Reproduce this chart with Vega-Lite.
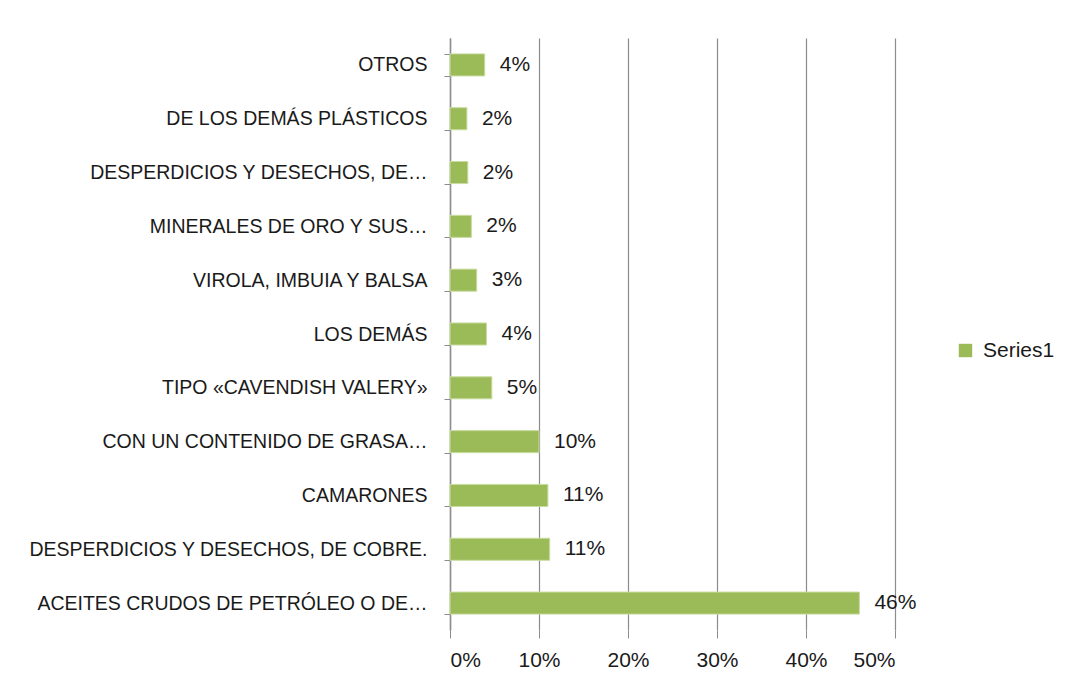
{
  "$schema": "https://vega.github.io/schema/vega-lite/v6.json",
  "autosize": {"type": "none"},
  "width": 445,
  "height": 592,
  "padding": {"left": 450, "top": 38, "right": 175, "bottom": 56},
  "background": "white",
  "config": {
    "view": {"stroke": null},
    "font": "Liberation Sans"
  },
  "data": {
    "values": [
      {"cat": "OTROS", "value": 0.039, "series": "Series1"},
      {"cat": "DE LOS DEMÁS PLÁSTICOS", "value": 0.019, "series": "Series1"},
      {"cat": "DESPERDICIOS Y DESECHOS, DE…", "value": 0.020, "series": "Series1"},
      {"cat": "MINERALES DE ORO Y SUS…", "value": 0.024, "series": "Series1"},
      {"cat": "VIROLA, IMBUIA Y BALSA", "value": 0.030, "series": "Series1"},
      {"cat": "LOS DEMÁS", "value": 0.041, "series": "Series1"},
      {"cat": "TIPO «CAVENDISH VALERY»", "value": 0.047, "series": "Series1"},
      {"cat": "CON UN CONTENIDO DE GRASA…", "value": 0.100, "series": "Series1"},
      {"cat": "CAMARONES", "value": 0.110, "series": "Series1"},
      {"cat": "DESPERDICIOS Y DESECHOS, DE COBRE.", "value": 0.112, "series": "Series1"},
      {"cat": "ACEITES CRUDOS DE PETRÓLEO O DE…", "value": 0.460, "series": "Series1"}
    ]
  },
  "encoding": {
    "y": {
      "field": "cat",
      "type": "nominal",
      "sort": null,
      "scale": {"paddingInner": 0.59, "paddingOuter": 0.295},
      "axis": {
        "title": null,
        "tickBand": "extent",
        "domainColor": "#8c8c8c",
        "domainWidth": 1.5,
        "tickColor": "#8c8c8c",
        "tickSize": 6,
        "labelPadding": 17,
        "labelFontSize": 19.5,
        "labelColor": "#1a1a1a",
        "labelLimit": 500
      }
    },
    "x": {
      "field": "value",
      "type": "quantitative",
      "scale": {"domain": [0, 0.5]},
      "axis": {
        "title": null,
        "format": ".0%",
        "values": [0, 0.1, 0.2, 0.3, 0.4, 0.5],
        "domain": false,
        "grid": true,
        "gridColor": "#8c8c8c",
        "gridWidth": 1.2,
        "tickColor": "#8c8c8c",
        "tickSize": 8,
        "labelPadding": 11,
        "labelFontSize": 21,
        "labelColor": "#1a1a1a"
      }
    }
  },
  "layer": [
    {
      "mark": {"type": "bar", "stroke": "#c9dca0", "strokeWidth": 1},
      "encoding": {
        "color": {
          "field": "series",
          "type": "nominal",
          "scale": {"range": ["#9bbb59"]},
          "legend": {
            "title": null,
            "orient": "none",
            "legendX": 505,
            "legendY": 302,
            "symbolType": "square",
            "symbolSize": 180,
            "symbolStrokeWidth": 0,
            "labelFontSize": 21,
            "labelColor": "#1a1a1a",
            "labelOffset": 7
          }
        }
      }
    },
    {
      "mark": {"type": "text", "align": "left", "dx": 15, "fontSize": 21, "color": "#1a1a1a"},
      "encoding": {
        "text": {"field": "value", "type": "quantitative", "format": ".0%"}
      }
    }
  ]
}
